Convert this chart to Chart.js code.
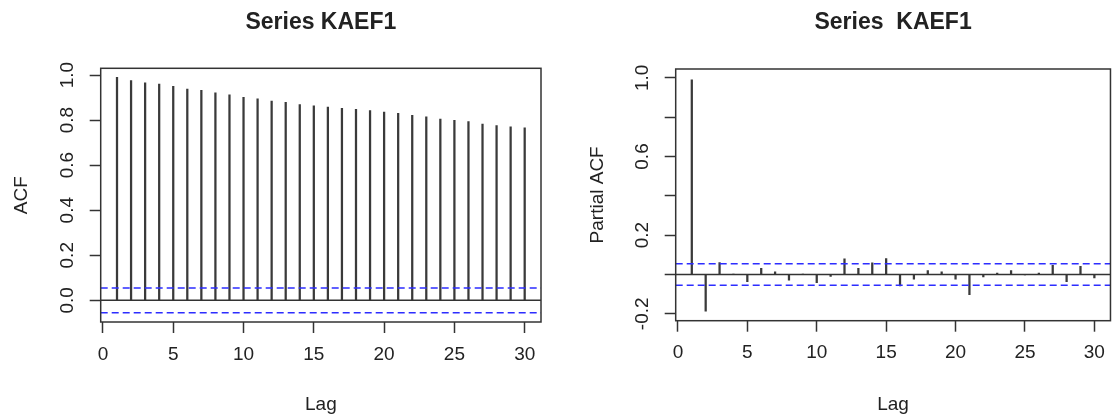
<!DOCTYPE html>
<html>
<head>
<meta charset="utf-8">
<script src="https://cdn.jsdelivr.net/npm/chart.js@4"></script>
<style>
    body { margin: 0; background: #fff; }
    canvas { position: absolute; top: 0; }
    #acf { left: 0; }
    #pacf { left: 558px; }
</style>
</head>
<body>
<canvas id="acf" width="558" height="418"></canvas>
<canvas id="pacf" width="557" height="418"></canvas>
<script>
// lags and correlations
const lags = [1, 2, 3, 4, 5, 6, 7, 8, 9, 10, 11, 12, 13, 14, 15,
              16, 17, 18, 19, 20, 21, 22, 23, 24, 25, 26, 27, 28, 29, 30];
const acfValues = [0.990, 0.976, 0.966, 0.960, 0.950, 0.938, 0.932, 0.921, 0.912, 0.901,
                   0.895, 0.884, 0.879, 0.869, 0.863, 0.858, 0.852, 0.848, 0.842, 0.836,
                   0.830, 0.821, 0.815, 0.805, 0.799, 0.793, 0.782, 0.776, 0.770, 0.766];
const pacfValues = [0.990, -0.187, 0.061, 0.002, -0.036, 0.031, 0.014, -0.029, 0.002, -0.042,
                    -0.010, 0.080, 0.031, 0.059, 0.081, -0.058, -0.024, 0.020, 0.014, -0.024,
                    -0.102, -0.012, 0.007, 0.020, -0.002, 0.007, 0.046, -0.036, 0.041, -0.017];
const confLimit = 0.055; // blue dashed band
const acfYLabels = ['0.0', '0.2', '0.4', '0.6', '0.8', '1.0'];
const pacfYLabels = ['-0.2', '', '0.2', '', '0.6', '', '1.0'];

const FONT = '"Liberation Sans", Arial, sans-serif';
Chart.defaults.font.family = FONT;
Chart.defaults.color = '#222';

const X_MIN = -0.16, X_MAX = 31.16;

// R-style box, rotated y labels and main title
const rFrame = {
    id: 'rFrame',
    afterDraw(chart, args, opts) {
        const { ctx, chartArea: a, scales } = chart;
        ctx.save();
        ctx.strokeStyle = '#333';
        ctx.lineWidth = 1.5;
        ctx.strokeRect(a.left, a.top, a.right - a.left, a.bottom - a.top);

        ctx.fillStyle = '#222';
        ctx.textAlign = 'center';
        ctx.textBaseline = 'middle';
        ctx.font = '19px ' + FONT;
        scales.y.ticks.forEach((t, i) => {
            const label = opts.yLabels[i];
            if (!label) return;
            const y = scales.y.getPixelForValue(t.value);
            ctx.save();
            ctx.translate(a.left - 33, y);
            ctx.rotate(-Math.PI / 2);
            ctx.fillText(label, 0, 0);
            ctx.restore();
        });

        ctx.font = 'bold 23px ' + FONT;
        ctx.fillText(opts.title, (a.left + a.right) / 2, 23);
        ctx.restore();
    }
};

function makeChart(id, values, cfg) {
    const ctx = document.getElementById(id).getContext('2d');
    const bandLine = (y) => ({
        type: 'line',
        data: [{ x: X_MIN, y: y }, { x: X_MAX, y: y }],
        borderColor: 'rgb(45, 45, 255)',
        borderWidth: 1.5,
        borderDash: [7, 4],
        pointRadius: 0,
    });
    return new Chart(ctx, {
        type: 'bar',
        data: {
            datasets: [
                bandLine(confLimit),
                bandLine(-confLimit),
                {
                    type: 'line',
                    data: [{ x: X_MIN, y: 0 }, { x: X_MAX, y: 0 }],
                    borderColor: '#333',
                    borderWidth: 1.5,
                    pointRadius: 0,
                },
                {
                    data: lags.map((l, i) => ({ x: l, y: values[i] })),
                    backgroundColor: '#3a3a3a',
                    barThickness: 1.6,
                },
            ],
        },
        options: {
            responsive: false,
            animation: false,
            layout: { padding: { top: cfg.top, left: cfg.left, right: cfg.right, bottom: 0 } },
            plugins: {
                legend: { display: false },
                tooltip: { enabled: false },
                rFrame: { title: cfg.title, yLabels: cfg.yLabels },
            },
            scales: {
                x: {
                    type: 'linear',
                    offset: false,
                    min: X_MIN,
                    max: X_MAX,
                    ticks: { stepSize: 5, includeBounds: false, padding: 10, font: { size: 19 }, color: '#222' },
                    grid: { drawOnChartArea: false, tickLength: 11, tickColor: '#333', tickWidth: 1.5, offset: false },
                    border: { display: false },
                    title: { display: true, text: 'Lag', font: { size: 19 }, padding: { top: 4, bottom: 2 } },
                    afterFit: (s) => { s.height = cfg.xHeight; },
                },
                y: {
                    min: cfg.yMin,
                    max: cfg.yMax,
                    ticks: { stepSize: 0.2, includeBounds: false, display: false },
                    grid: { drawOnChartArea: false, tickLength: 11, tickColor: '#333', tickWidth: 1.5 },
                    border: { display: false },
                    title: { display: true, text: cfg.yTitle, font: { size: 19 }, padding: { top: 6, bottom: 4 } },
                    afterFit: (s) => { s.width = cfg.yWidth; },
                },
            },
        },
        plugins: [rFrame],
    });
}

window.onload = function () {
    makeChart('acf', acfValues, {
        title: 'Series KAEF1', yTitle: 'ACF', yLabels: acfYLabels,
        yMin: -0.0964, yMax: 1.030,
        top: 68.3, left: 4.6, right: 17, yWidth: 96.1, xHeight: 96,
    });
    makeChart('pacf', pacfValues, {
        title: 'Series  KAEF1', yTitle: 'Partial ACF', yLabels: pacfYLabels,
        yMin: -0.235, yMax: 1.045,
        top: 69, left: 22.6, right: 1.7, yWidth: 95.1, xHeight: 97.3,
    });
};
</script>
</body>
</html>
